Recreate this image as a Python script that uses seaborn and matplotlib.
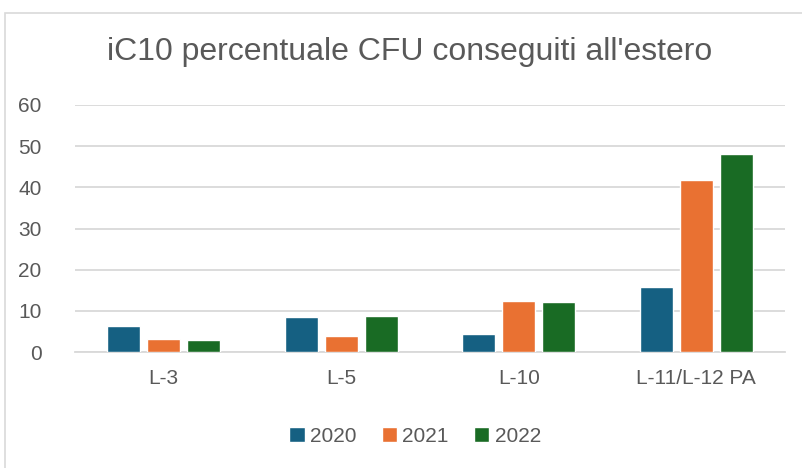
import pandas as pd
import matplotlib.pyplot as plt
import matplotlib.patches as mpatches
import seaborn as sns

# dati
corsi = ['L-3', 'L-5', 'L-10', 'L-11/L-12 PA']
anni = ['2020', '2021', '2022']
v2020 = [6.3, 8.5, 4.4, 15.8]
v2021 = [3.1, 4.0, 12.4, 41.9]
v2022 = [2.8, 8.7, 12.1, 48.1]
colori = ['#156082', '#E97132', '#196B24']

df = pd.DataFrame({
    'corso': corsi * 3,
    'anno': [a for a in anni for _ in corsi],
    'valore': v2020 + v2021 + v2022,
})

sns.set_style('white')
plt.rcParams['font.family'] = ['Liberation Sans', 'DejaVu Sans']
grigio = '#595959'

fig = plt.figure(figsize=(8.02, 4.68), dpi=100)
ax = fig.add_axes([75 / 802, 116 / 468, 710 / 802, 247 / 468])

sns.barplot(data=df, x='corso', y='valore', hue='anno', palette=colori,
            saturation=1, width=0.68, gap=0.18, ax=ax, zorder=3)

ax.set_ylim(0, 60)
ax.set_xlim(-0.5, 3.5)
ax.set_yticks(range(0, 61, 10))
ax.yaxis.grid(True, color='#d9d9d9', linewidth=1.3, zorder=0)
ax.set_axisbelow(True)
for s in ['top', 'right', 'left']:
    ax.spines[s].set_visible(False)
ax.spines['bottom'].set_color('#d9d9d9')
ax.spines['bottom'].set_linewidth(1.3)
ax.tick_params(axis='both', length=0, labelsize=15, labelcolor=grigio)
ax.tick_params(axis='y', pad=24)
ax.tick_params(axis='x', pad=12)
ax.set_xlabel('')
ax.set_ylabel('')

fig.text(410 / 802, 1 - 52 / 468, "iC10 percentuale CFU conseguiti all'estero",
         ha='center', va='center', fontsize=23, color=grigio)

handles, labels = ax.get_legend_handles_labels()
ax.legend(handles, labels, loc='center', bbox_to_anchor=(415 / 802, 1 - 436 / 468),
          bbox_transform=fig.transFigure, ncol=3, frameon=False, fontsize=15,
          labelcolor=grigio, handlelength=0.75, handleheight=0.75,
          handletextpad=0.25, columnspacing=1.2)

# bordo dell'area grafico
fig.patches.append(mpatches.Rectangle((5 / 802, -0.01), 1.0, 1 - 13 / 468 + 0.01,
                                      transform=fig.transFigure, fill=False,
                                      edgecolor='#d9d9d9', linewidth=1.2))

fig.savefig('out.png', dpi=100)
